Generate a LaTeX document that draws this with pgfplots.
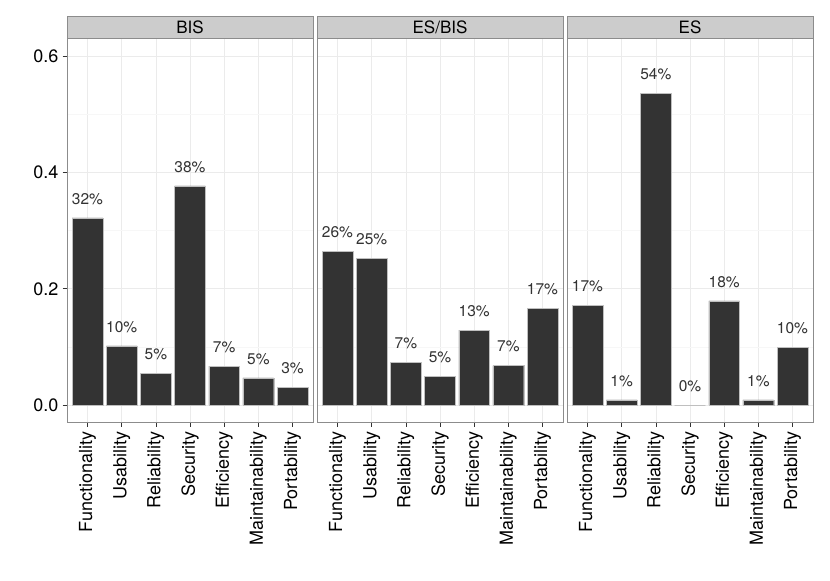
\documentclass[border=0pt]{standalone}
\usepackage{pgfplots}
\pgfplotsset{compat=1.18}
\usepackage{pgfplotstable}
\usepackage{fontspec}
\setmainfont{TeX Gyre Heros}
\definecolor{barc}{HTML}{333333}
\definecolor{g90}{HTML}{EBEBEB}
\definecolor{g98}{HTML}{F7F7F7}
\definecolor{g50}{HTML}{8C8C8C}
\definecolor{g80}{HTML}{CCCCCC}

\pgfplotstableread{
x y pct
0 0.322 32
1 0.102 10
2 0.055 5
3 0.377 38
4 0.067 7
5 0.047 5
6 0.031 3
}\bis
\pgfplotstableread{
x y pct
0 0.264 26
1 0.252 25
2 0.074 7
3 0.049 5
4 0.129 13
5 0.068 7
6 0.166 17
}\esbis
\pgfplotstableread{
x y pct
0 0.171 17
1 0.009 1
2 0.536 54
3 0.000 0
4 0.179 18
5 0.009 1
6 0.099 10
}\es

\pgfplotsset{
  panel/.style={
    scale only axis, width=246pt, height=384pt, anchor=south west,
    xmin=-0.6, xmax=6.6, ymin=-0.029, ymax=0.631,
    axis line style={g50, line width=0.7pt},
    clip=false,
    xtick={0,...,6},
    xticklabels={Functionality,Usability,Reliability,Security,Efficiency,Maintainability,Portability},
    xticklabel style={rotate=90, anchor=east, font=\fontsize{18pt}{18pt}\selectfont, inner sep=0pt, xshift=-5pt},
    ytick={0,0.2,0.4,0.6}, minor ytick={0.1,0.3,0.5},
    yticklabels={0.0,0.2,0.4,0.6},
    yticklabel style={font=\fontsize{18pt}{18pt}\selectfont, inner sep=0pt, xshift=-4pt},
    xmajorgrids, ymajorgrids, yminorgrids,
    major grid style={g90, line width=0.6pt},
    minor grid style={g98, line width=0.6pt},
    tick align=outside, major tick length=4.5pt, minor tick length=0pt,
    tick style={black!80, line width=0.6pt},
    xtick pos=bottom, ytick pos=left,
    axis background/.style={fill=white},
    ybar, bar width=0.9,
    point meta=explicit symbolic,
    nodes near coords={\pgfplotspointmeta\%},
    nodes near coords style={anchor=center, yshift=19pt, text=barc, font=\fontsize{15.5pt}{15.5pt}\selectfont, inner sep=0pt},
  },
  strip/.style={
    execute at end axis={
      \draw[g50, fill=g80, line width=0.7pt] (rel axis cs:0,1) rectangle ([yshift=22pt]rel axis cs:1,1);
      \node[font=\fontsize{17pt}{17pt}\selectfont, text=black] at ([yshift=11pt]rel axis cs:0.5,1) {#1};
    }
  },
}

\begin{document}
\begin{tikzpicture}
\useasboundingbox (0,0) rectangle (830pt,581pt);
\begin{axis}[panel, strip=BIS, at={(67pt,159pt)}]
\addplot[fill=barc, draw=white!75!black, line width=0.3pt] table[x=x, y=y, meta=pct] {\bis};
\end{axis}
\begin{axis}[panel, strip=ES/BIS, at={(317pt,159pt)}, yticklabels={}, ytick style={draw=none}]
\addplot[fill=barc, draw=white!75!black, line width=0.3pt] table[x=x, y=y, meta=pct] {\esbis};
\end{axis}
\begin{axis}[panel, strip=ES, at={(567pt,159pt)}, yticklabels={}, ytick style={draw=none}]
\addplot[fill=barc, draw=white!75!black, line width=0.3pt] table[x=x, y=y, meta=pct] {\es};
\end{axis}
\end{tikzpicture}
\end{document}
